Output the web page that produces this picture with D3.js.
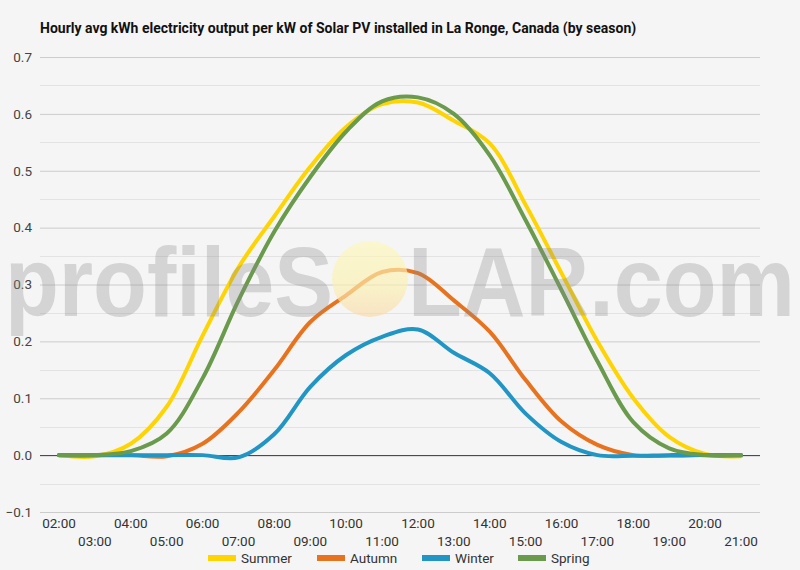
<!DOCTYPE html>
<html lang="en">
<head>
<meta charset="utf-8">
<title>La Ronge solar output</title>
<script src="https://cdn.jsdelivr.net/npm/d3@7"></script>
<style>
    body { margin: 0; background: #f5f5f5; }
    svg { display: block; font-family: Roboto, "Noto Sans", sans-serif; }
</style>
</head>
<body>
<div id="chart"></div>
<script>
    // data
    var hours = ["02:00", "03:00", "04:00", "05:00", "06:00", "07:00", "08:00", "09:00", "10:00", "11:00",
        "12:00", "13:00", "14:00", "15:00", "16:00", "17:00", "18:00", "19:00", "20:00", "21:00"];
    var summer = [0, -0.002, 0.02, 0.085, 0.21, 0.33, 0.42, 0.507, 0.577, 0.617,
        0.62, 0.588, 0.548, 0.44, 0.32, 0.2, 0.1, 0.032, 0.002, -0.002];
    var autumn = [0, 0, 0, -0.002, 0.02, 0.075, 0.15, 0.234, 0.281, 0.322,
        0.32, 0.272, 0.217, 0.132, 0.059, 0.018, 0, -0.001, 0, 0];
    var winter = [0, 0, 0, 0, 0, -0.004, 0.037, 0.12, 0.176, 0.208,
        0.221, 0.18, 0.144, 0.073, 0.023, 0, -0.001, 0, 0, 0];
    var spring = [0, 0, 0.007, 0.038, 0.135, 0.272, 0.393, 0.489, 0.569, 0.622,
        0.629, 0.6, 0.527, 0.413, 0.29, 0.165, 0.058, 0.012, 0, 0];
    var seasonNames = ["Summer", "Autumn", "Winter", "Spring"];
    var seasonColors = ["#ffd400", "#e8731f", "#2196c4", "#6a9a4b"];
    var yTicks = [-0.1, 0, 0.1, 0.2, 0.3, 0.4, 0.5, 0.6, 0.7];
    var title = "Hourly avg kWh electricity output per kW of Solar PV installed in La Ronge, Canada (by season)";

    var series = [summer, autumn, winter, spring];

    var width = 800, height = 570;
    var plotLeft = 40, plotRight = 760;

    var svg = d3.select("#chart").append("svg")
        .attr("width", width)
        .attr("height", height);

    svg.append("rect").attr("width", width).attr("height", height).attr("fill", "#f5f5f5");

    var x = d3.scalePoint().domain(hours).range([59, 741]);
    var y = d3.scaleLinear().domain([-0.1, 0.7]).range([512, 57]);

    // title
    svg.append("text")
        .attr("x", 40)
        .attr("y", 33)
        .attr("font-size", 14)
        .attr("font-weight", "bold")
        .attr("fill", "#111")
        .text(title);

    // minor gridlines
    svg.append("g").selectAll("line")
        .data(d3.range(-0.05, 0.7, 0.1))
        .enter().append("line")
        .attr("x1", plotLeft).attr("x2", plotRight)
        .attr("y1", d => Math.round(y(d)) + 0.5).attr("y2", d => Math.round(y(d)) + 0.5)
        .attr("stroke", "#e3e3e3");

    // major gridlines + y labels
    var yAxis = d3.axisLeft(y).tickValues(yTicks).tickSize(-(plotRight - plotLeft))
        .tickFormat(d3.format(".1f")).tickPadding(8);
    var gy = svg.append("g").attr("transform", "translate(" + plotLeft + ",0)").call(yAxis);
    gy.select(".domain").remove();
    gy.selectAll(".tick line")
        .attr("stroke", d => d === 0 ? "#333" : "#cccccc");
    gy.selectAll(".tick text")
        .attr("font-family", "Roboto, sans-serif")
        .attr("font-size", 13.5)
        .attr("fill", "#444");

    // x labels alternate rows
    svg.append("g").selectAll("text")
        .data(hours)
        .enter().append("text")
        .attr("x", d => x(d))
        .attr("y", (d, i) => i % 2 === 0 ? 528 : 546)
        .attr("text-anchor", "middle")
        .attr("font-size", 13.5)
        .attr("fill", "#333")
        .text(d => d);

    // lines
    var line = d3.line()
        .x((d, i) => x(hours[i]))
        .y(d => y(d))
        .curve(d3.curveCatmullRom.alpha(0.5));

    svg.append("g").selectAll("path")
        .data(series)
        .enter().append("path")
        .attr("d", d => line(d))
        .attr("fill", "none")
        .attr("stroke", (d, i) => seasonColors[i])
        .attr("stroke-width", 4)
        .attr("stroke-linejoin", "round")
        .attr("stroke-linecap", "round");

    // watermark (sits over the lines)
    var defs = svg.append("defs");
    var grad = defs.append("linearGradient").attr("id", "sun")
        .attr("x1", 0).attr("y1", 0).attr("x2", 0).attr("y2", 1);
    grad.append("stop").attr("offset", "0%").attr("stop-color", "#fdf7b8");
    grad.append("stop").attr("offset", "60%").attr("stop-color", "#fbf0b0");
    grad.append("stop").attr("offset", "100%").attr("stop-color", "#f9d9a8");

    var wm = svg.append("g").attr("pointer-events", "none");
    wm.append("circle")
        .attr("cx", 370).attr("cy", 279).attr("r", 38)
        .attr("fill", "url(#sun)")
        .attr("opacity", 0.65);
    wm.append("text")
        .attr("x", 5).attr("y", 316)
        .attr("font-family", "'Liberation Sans', Arial, sans-serif")
        .attr("font-weight", "bold")
        .attr("font-size", 98)
        .attr("textLength", 328)
        .attr("lengthAdjust", "spacingAndGlyphs")
        .attr("fill", "#8a8a8a")
        .attr("opacity", 0.3)
        .text("profileS");
    wm.append("text")
        .attr("x", 408).attr("y", 316)
        .attr("font-family", "'Liberation Sans', Arial, sans-serif")
        .attr("font-weight", "bold")
        .attr("font-size", 98)
        .attr("textLength", 387)
        .attr("lengthAdjust", "spacingAndGlyphs")
        .attr("fill", "#8a8a8a")
        .attr("opacity", 0.3)
        .text("LAR.com");

    // legend
    var legendX = [208, 317, 422, 518];
    var legend = svg.append("g").selectAll("g")
        .data(seasonNames)
        .enter().append("g")
        .attr("transform", (d, i) => "translate(" + legendX[i] + ",558)");
    legend.append("line")
        .attr("x1", 0).attr("x2", 28)
        .attr("stroke", (d, i) => seasonColors[i])
        .attr("stroke-width", 6);
    legend.append("text")
        .attr("x", 33)
        .attr("dy", "0.35em")
        .attr("font-size", 13.5)
        .attr("fill", "#333")
        .text(d => d);
</script>
</body>
</html>
